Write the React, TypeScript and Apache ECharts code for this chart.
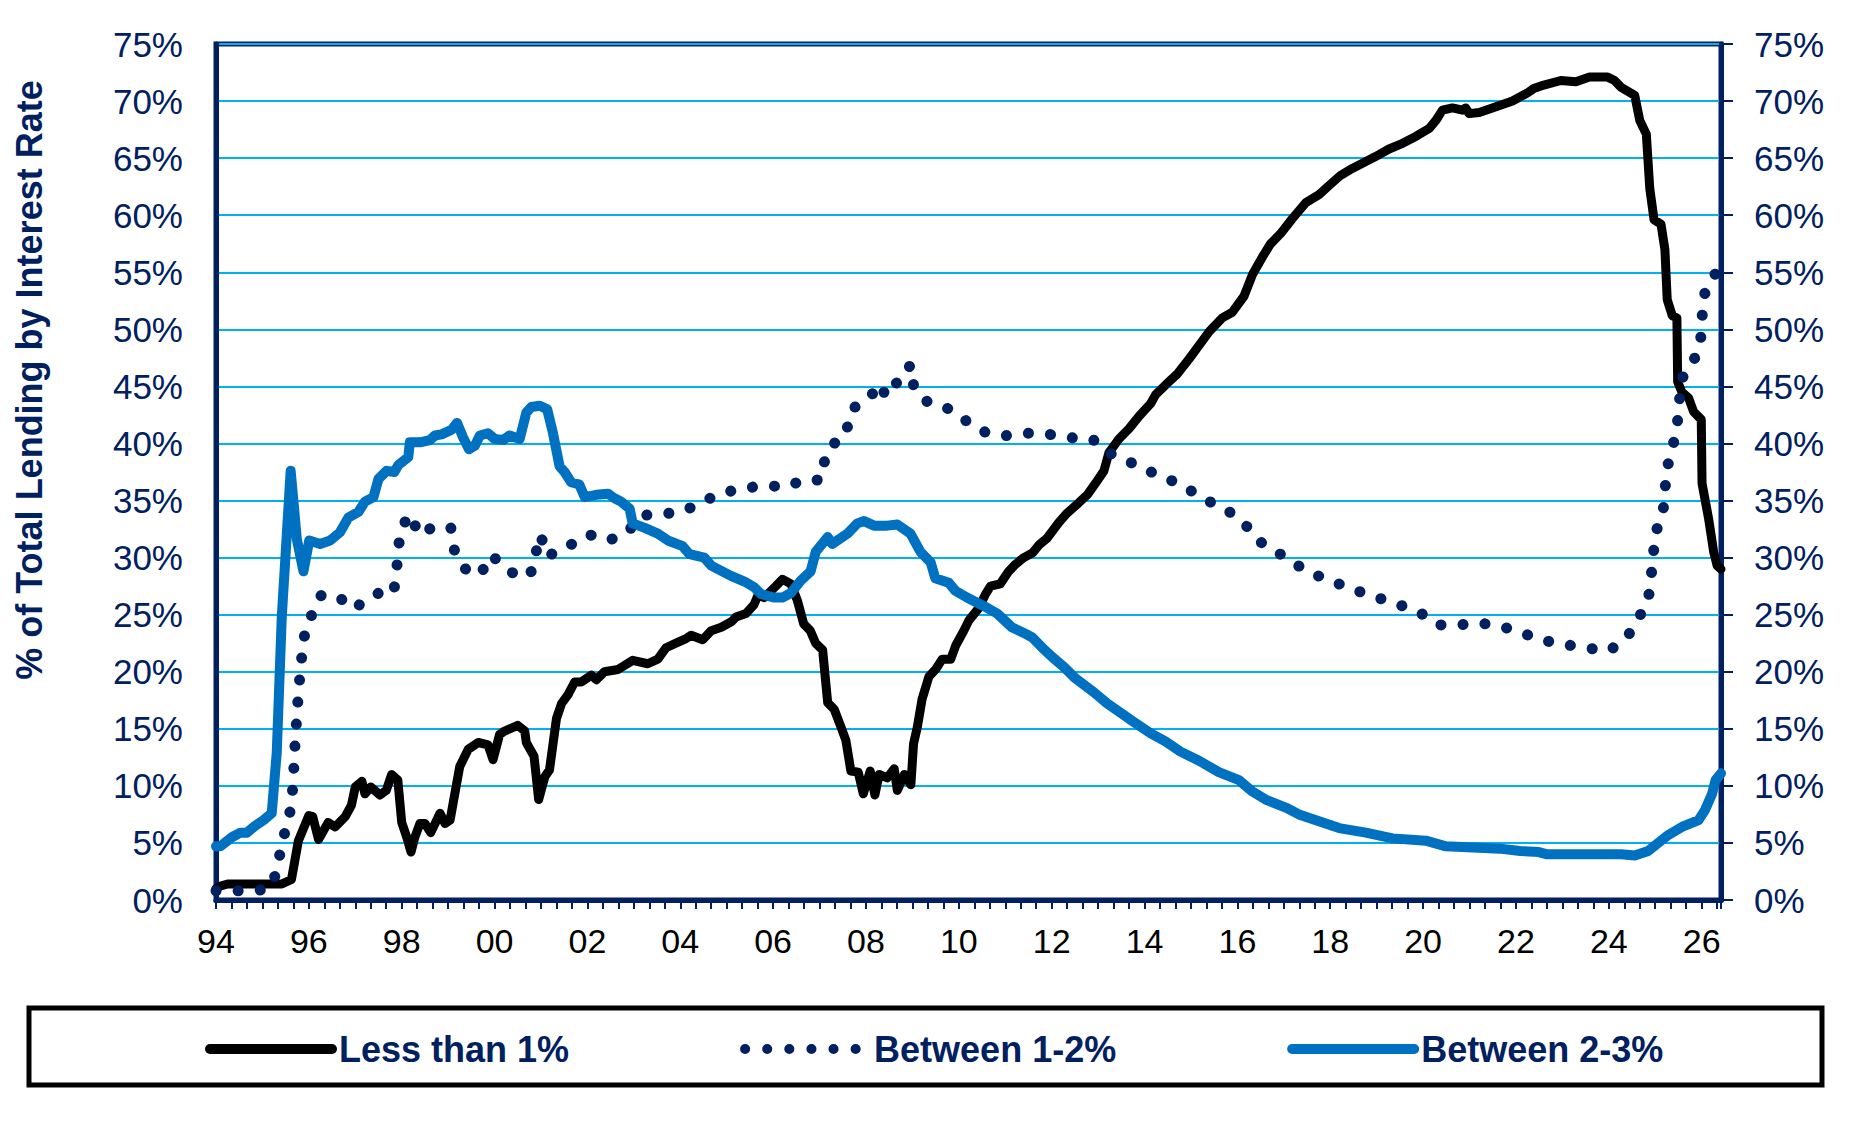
import React, { useEffect, useRef } from "react";
import * as echarts from "echarts";

// x = months since Jan 1994, y = % of total lending
const seriesNames = ["Less than 1%", "Between 1-2%", "Between 2-3%"];
const yearLabels = ["94", "96", "98", "00", "02", "04", "06", "08", "10", "12", "14", "16", "18", "20", "22", "24", "26"];

const lessThan1: [number, number][] = [
  [0, 1.0], [1, 1.2], [3, 1.4], [17, 1.4], [19.5, 1.8], [21.3, 5.2], [24, 7.4], [25, 7.3], [26.5, 5.3], [29, 6.8],
  [30.8, 6.4], [33.4, 7.3], [35, 8.3], [36, 9.9], [37.7, 10.4], [38.5, 9.3], [40, 9.9], [42.4, 9.2], [44, 9.6],
  [45.4, 11.0], [47, 10.5], [48, 6.8], [49.3, 5.5], [50.4, 4.2], [51.4, 5.5], [52.7, 6.7], [54, 6.7], [55.5, 5.9],
  [57.9, 7.6], [59.2, 6.7], [60.5, 7.0], [63, 11.7], [65.2, 13.2], [67.8, 13.8], [70.3, 13.6], [71.6, 12.3],
  [73.3, 14.5], [74.6, 14.8], [78, 15.3], [79.8, 14.8], [80.2, 13.8], [82.2, 12.6], [83.4, 8.8], [85, 10.8],
  [86.2, 11.4], [88, 15.9], [89.3, 17.2], [91, 18.0], [92.7, 19.1], [94.4, 19.1], [97, 19.7], [98.3, 19.3],
  [100.4, 20.0], [103.9, 20.2], [107.7, 21.0], [111.6, 20.7], [114.2, 21.1], [116.3, 22.1], [118.9, 22.5],
  [121.5, 22.9], [122.8, 23.2], [125.8, 22.8], [128, 23.6], [130.6, 23.9], [133.3, 24.4], [134.4, 24.8],
  [137, 25.1], [139.1, 25.9], [140.2, 26.8], [141.7, 26.5], [144.7, 27.5], [146.4, 28.1], [148.6, 27.7],
  [150.3, 26.2], [151.9, 24.2], [153.6, 23.6], [155, 22.5], [156.8, 21.9], [158.1, 17.3], [159.8, 16.7],
  [161.5, 15.2], [162.8, 14.0], [164.1, 11.3], [166, 11.2], [167.3, 9.3], [169.1, 11.3], [170.3, 9.2],
  [171.4, 11.0], [173.5, 10.7], [175.3, 11.5], [176.1, 9.6], [177.9, 11.0], [179.6, 10.1], [180.3, 13.7],
  [181.3, 15.2], [182.5, 17.6], [184.3, 19.6], [186, 20.2], [187.7, 21.1], [189.9, 21.1], [191.2, 22.3],
  [193.3, 23.6], [194.6, 24.5], [197.2, 25.6], [198.9, 26.8], [200.2, 27.5], [202.7, 27.7], [204.9, 28.8],
  [206.6, 29.4], [208.8, 30.0], [211, 30.4], [212.7, 31.1], [214.8, 31.7], [217.9, 33.1], [220, 33.9],
  [223, 34.8], [225.2, 35.5], [227.3, 36.5], [229.5, 37.6], [230.8, 39.2], [233.4, 40.4], [236, 41.3],
  [238.6, 42.4], [241.6, 43.5], [242.9, 44.3], [246.3, 45.4], [248.5, 46.1], [251.5, 47.4], [254.1, 48.6],
  [256.7, 49.8], [260.1, 51.0], [262.7, 51.5], [265.7, 52.9], [267.9, 54.8], [270.4, 56.3], [272.6, 57.5],
  [275.2, 58.4], [278.2, 59.7], [281.7, 61.1], [285.1, 61.8], [287.7, 62.6], [290.7, 63.5], [293.7, 64.1],
  [297.2, 64.7], [300.6, 65.3], [303.2, 65.8], [306.7, 66.3], [310.1, 66.9], [313.6, 67.6], [315.3, 68.3],
  [317, 69.2], [319.6, 69.4], [322.2, 69.2], [323, 69.4], [323.9, 68.9], [326.5, 69.0], [329.9, 69.4],
  [335.1, 70.0], [338.9, 70.7], [340.6, 71.1], [343.2, 71.4], [347.6, 71.8], [351.5, 71.7], [355, 72.1],
  [359.7, 72.1], [361.5, 71.8], [363.2, 71.2], [366.7, 70.5], [368, 68.3], [369.7, 67.1], [370.6, 62.3],
  [371.7, 59.6], [373.5, 59.2], [374.5, 57], [375.1, 52.6], [376.4, 51.2], [377.6, 51], [377.8, 45.4],
  [378.9, 44.5], [380.6, 44], [381.9, 42.8], [383.9, 42.1], [384.1, 36.5], [385.8, 33.4], [387.1, 30.5],
  [388, 29.3], [389, 29.0],
];

const between1and2: [number, number][] = [
  [0, 0.8], [7.1, 0.8], [13.2, 0.9], [15.6, 2.3], [16.6, 4.2], [17.9, 6.1], [19.4, 8.1], [19.9, 10.1],
  [20.2, 12.1], [20.5, 14.1], [20.9, 16.1], [21.3, 18.1], [21.8, 20.1], [22.4, 22.1], [23.3, 24.1],
  [25.8, 25.6], [27.2, 26.7], [31.5, 26.6], [35.5, 25.5], [38.5, 26.2], [42.6, 27.0], [45.9, 26.9],
  [46.7, 28.9], [47.1, 30.9], [48.2, 32.8], [50.3, 33.8], [52.4, 32.0], [55.7, 32.6], [58.7, 32.8],
  [60.7, 32.6], [61.7, 30.5], [64.5, 29.0], [68.4, 28.5], [70.8, 30.2], [72.2, 29.9], [76.4, 28.7],
  [80.5, 28.3], [82.5, 29.3], [83, 31.3], [83.8, 32.0], [85.8, 30.1], [89.1, 30.8], [93.7, 31.4],
  [96.6, 32.0], [101.5, 31.5], [106.3, 32.2], [109.9, 33.7], [115.5, 33.8], [121.1, 34.1], [126.2, 35.0],
  [131.4, 35.7], [136.7, 36.1], [141.9, 36.3], [147.7, 36.2], [151.6, 36.8], [156.3, 36.8], [157.5, 38.8],
  [158.9, 39.8], [162.8, 40.7], [163.9, 42.7], [166.5, 43.7], [168.4, 44.1], [169.9, 44.4], [170.5, 45.2],
  [173.8, 44.1], [175.9, 45.3], [178.4, 45.9], [179.4, 46.9], [180.4, 44.9], [182.8, 43.9], [185.1, 43.4],
  [189.9, 43.0], [194.6, 41.8], [199.3, 40.9], [204.3, 40.7], [209.8, 40.9], [215.3, 40.8], [221.1, 40.5],
  [226.5, 40.4], [230.6, 39.2], [236, 38.4], [241, 37.6], [246.1, 36.9], [251.3, 36.0], [256.2, 35.0],
  [261.2, 34.2], [265.8, 33.0], [269.3, 31.5], [274.2, 30.5], [279.1, 29.4], [284.1, 28.5], [289.4, 27.8],
  [294.8, 27.1], [300.2, 26.5], [305.6, 25.9], [311.1, 25.2], [315.9, 24.1], [321.5, 24.1], [326, 24.3],
  [331.9, 24.0], [336.9, 23.5], [342.3, 22.8], [348.3, 22.4], [354.1, 22.1], [359.9, 21.8], [364.5, 22.9],
  [367.4, 24.5], [370.2, 26.3], [370.9, 28.2], [371.5, 30.3], [372.1, 32.2], [374, 33.9], [374.5, 35.9],
  [375.1, 37.9], [376.6, 39.8], [377.7, 41.7], [378.2, 43.6], [378.9, 45.7], [381.8, 47.1], [383.7, 48.9],
  [384.1, 51], [384.5, 52.9], [386.9, 54.7], [389, 55.2],
];

const between2and3: [number, number][] = [
  [0, 4.7], [1.1, 4.7], [4.1, 5.5], [6.3, 5.9], [8, 5.9], [10.1, 6.5], [12.3, 7.0], [14.4, 7.6], [15.7, 12.9],
  [17, 24.8], [19.3, 37.6], [20.9, 31.6], [22.6, 28.8], [24.1, 31.5], [26.9, 31.2], [29.5, 31.5], [32, 32.2],
  [34.2, 33.5], [36.8, 34.0], [38.5, 34.9], [40.7, 35.3], [42, 36.9], [44.1, 37.6], [46.1, 37.5], [47.1, 38.1],
  [49.7, 38.8], [50.1, 40.1], [52.7, 40.1], [55.3, 40.3], [56.6, 40.7], [58.3, 40.8], [60.9, 41.2],
  [62.3, 41.8], [63.9, 40.5], [65.4, 39.5], [66.9, 39.8], [68.2, 40.7], [70.3, 40.9], [72, 40.4], [74.2, 40.3],
  [75.9, 40.7], [78.5, 40.4], [80.2, 42.7], [81.5, 43.2], [83.7, 43.3], [85.6, 43.0], [87.1, 40.9],
  [88.8, 38.0], [90.1, 37.5], [91.8, 36.6], [93.9, 36.4], [95.3, 35.3], [98.3, 35.5], [101.3, 35.6],
  [103, 35.2], [104.7, 34.9], [106.9, 34.3], [107.7, 33.0], [110.8, 32.6], [114.2, 32.1], [116.8, 31.5],
  [120.6, 31.0], [122.4, 30.3], [126.2, 30.0], [128, 29.3], [133.1, 28.4], [136.6, 27.9], [139.1, 27.4],
  [140.9, 26.8], [144.3, 26.5], [146.4, 26.5], [148.6, 26.9], [151.2, 28.0], [153.7, 28.8], [155, 30.5],
  [158.1, 31.8], [159.3, 31.2], [163.2, 32.1], [165.8, 33.0], [167.5, 33.2], [170.1, 32.8], [173.5, 32.8],
  [176.1, 32.9], [179.5, 32.1], [182.1, 30.5], [184.7, 29.6], [185.9, 28.2], [189.4, 27.8], [191.1, 27.1],
  [194.1, 26.5], [199.3, 25.6], [201.9, 25.1], [205.7, 23.9], [208.8, 23.4], [211, 23.0], [213.6, 22.1],
  [216.1, 21.3], [219.2, 20.4], [222.2, 19.4], [226.9, 18.2], [230.4, 17.2], [233.4, 16.5], [236.8, 15.7],
  [241.6, 14.6], [245.4, 13.9], [249.3, 13.0], [254.1, 12.2], [259.2, 11.2], [264.4, 10.5], [267.9, 9.5],
  [271.3, 8.8], [276.5, 8.1], [279.9, 7.5], [285.1, 6.9], [290.3, 6.3], [297.2, 5.9], [304.1, 5.4],
  [312.7, 5.2], [317.9, 4.7], [324.8, 4.6], [331.9, 4.5], [337.1, 4.3], [341.9, 4.2], [344.1, 4.0],
  [354.5, 4.0], [363.2, 4.0], [366.7, 3.9], [370.2, 4.3], [372.8, 5.0], [375.4, 5.7], [378.9, 6.4],
  [383.2, 7.0], [384.9, 7.9], [386.7, 9.3], [387.6, 10.5], [389, 11.1],
];

const NAVY = "#002060";
const FONT = "Liberation Sans, Arial, sans-serif";

export default function App() {
  const ref = useRef<HTMLDivElement>(null);
  useEffect(() => {
    if (!ref.current) return;
    const chart = echarts.init(ref.current, undefined, { renderer: "svg" });
    const yAxisBase = {
      type: "value",
      min: 0,
      max: 75,
      interval: 5,
      axisLabel: {
        formatter: (v: number) => `${v}%`,
        color: NAVY,
        fontSize: 35,
        fontFamily: FONT,
        margin: 33,
      },
    };
    chart.setOption({
      animation: false,
      backgroundColor: "#ffffff",
      grid: {
        left: 216,
        right: 130,
        top: 44,
        bottom: 236,
        show: true,
        borderColor: NAVY,
        borderWidth: 5,
        backgroundColor: "transparent",
      },
      xAxis: {
        type: "value",
        min: 0,
        max: 389,
        interval: 4,
        axisLine: { show: true, lineStyle: { color: NAVY, width: 5 } },
        axisTick: { show: true, length: 9, lineStyle: { color: NAVY, width: 2 } },
        axisLabel: {
          formatter: (v: number) => (v % 24 === 0 ? yearLabels[v / 24] ?? "" : ""),
          color: "#000000",
          fontSize: 34,
          fontFamily: FONT,
          margin: 24,
        },
        splitLine: { show: false },
      },
      yAxis: [
        {
          ...yAxisBase,
          position: "left",
          axisLine: { show: true, lineStyle: { color: NAVY, width: 5 } },
          axisTick: { show: false },
          splitLine: { show: true, lineStyle: { color: "#00B0F0", width: 2 } },
        },
        {
          ...yAxisBase,
          position: "right",
          axisLine: { show: true, lineStyle: { color: NAVY, width: 5 } },
          axisTick: { show: true, length: 12, lineStyle: { color: NAVY, width: 2 } },
          splitLine: { show: false },
        },
      ],
      legend: {
        left: 200,
        top: 1026,
        itemWidth: 122,
        itemHeight: 2,
        itemGap: 171,
        itemStyle: { opacity: 0 },
        lineStyle: { width: 10 },
        textStyle: {
          color: NAVY,
          fontSize: 36,
          fontWeight: "bold",
          fontFamily: FONT,
          padding: [0, 0, 0, 2],
        },
        data: seriesNames,
      },
      series: [
        {
          name: seriesNames[0],
          type: "line",
          data: lessThan1,
          symbol: "none",
          showSymbol: false,
          color: "#000000",
          lineStyle: { color: "#000000", width: 9, join: "round", cap: "round" },
        },
        {
          name: seriesNames[1],
          type: "line",
          data: between1and2,
          symbol: "none",
          showSymbol: false,
          color: NAVY,
          lineStyle: { color: NAVY, width: 11, type: [0.1, 22], cap: "round", join: "round" },
        },
        {
          name: seriesNames[2],
          type: "line",
          data: between2and3,
          symbol: "none",
          showSymbol: false,
          color: "#0070C0",
          lineStyle: { color: "#0070C0", width: 10, join: "round", cap: "round" },
        },
      ],
      graphic: [
        {
          type: "text",
          x: 29,
          y: 380,
          rotation: Math.PI / 2,
          style: {
            text: "% of Total Lending by Interest Rate",
            fill: NAVY,
            fontSize: 36,
            fontWeight: "bold",
            fontFamily: FONT,
            align: "center",
            verticalAlign: "middle",
          },
        },
        {
          type: "rect",
          shape: { x: 29, y: 1008, width: 1793, height: 77 },
          style: { fill: "none", stroke: "#000000", lineWidth: 5 },
          z: 10,
        },
      ],
    });
    return () => chart.dispose();
  }, []);
  return (
    <div
      ref={ref}
      style={{ position: "absolute", left: 0, top: 0, width: 1851, height: 1136, background: "#fff" }}
    />
  );
}
